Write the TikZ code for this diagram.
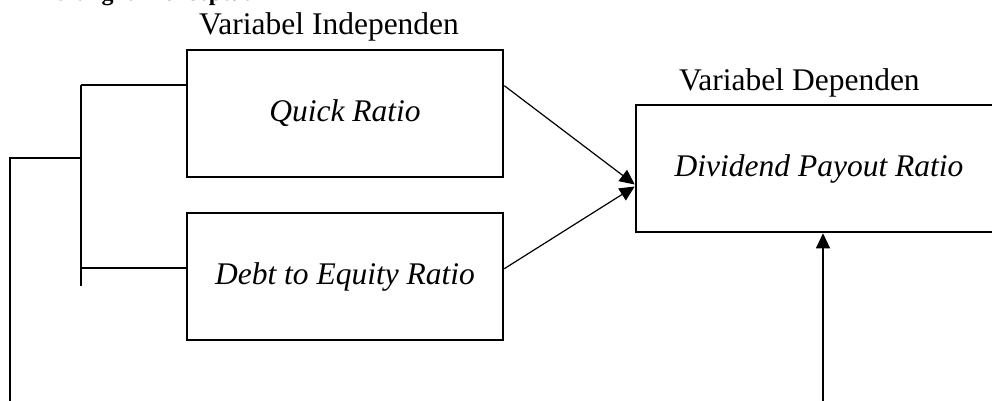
\documentclass[tikz,border=0pt]{standalone}
\usepackage{fontspec}
\setmainfont{Liberation Serif}
\usetikzlibrary{arrows.meta,calc}
\begin{document}
\begin{tikzpicture}[x=1pt,y=-1pt,
  varbox/.style={draw,line width=2.6pt,inner sep=0pt,minimum height=127pt,
    font=\fontsize{31.5}{36}\selectfont\itshape},
  lbl/.style={inner sep=0pt,anchor=base west,font=\fontsize{31.5}{36}\selectfont},
  conn/.style={line width=1.2pt},
  arr/.style={conn,-{Triangle[length=15pt,width=14pt]}}]
\clip (0,0) rectangle (992,401);
% cut heading
\node[inner sep=0pt,anchor=base west,font=\fontsize{24}{28}\selectfont\bfseries] (hd) at (36,1) {Kerangka Konseptual};
% labels
\node[lbl] (li) at (199,35) {Variabel Independen};
\node[lbl] (ld) at (679,91) {Variabel Dependen};
% boxes
\node[varbox,minimum width=316pt] (q) at (345,113.5) {Quick Ratio};
\node[varbox,minimum width=316pt] (e) at (345,276.5) {Debt to Equity Ratio};
\node[varbox,minimum width=366pt] (d) at (819,168.5) {Dividend Payout Ratio};
% bracket
\coordinate (bt) at (81,85);
\coordinate (bm) at (81,158);
\coordinate (bl) at (81,268);
\coordinate (bb) at (81,286);
\coordinate (lb) at (10,401);
\coordinate (vb) at (823,401);
\draw[conn] (bt) -- (bt -| q.west);
\draw[conn] (bl) -- (bl -| e.west);
\draw[conn] (bt) -- (bb);
\draw[conn] (bm) -| (lb);
% arrows
\draw[arr] ([yshift=-37pt]q.north east) -- ([yshift=-16pt]d.west);
\draw[arr] ([yshift=-57pt]e.north east) -- ([yshift=-18pt]d.west);
\draw[arr] (vb) -- (vb |- d.south);
\end{tikzpicture}
\end{document}
